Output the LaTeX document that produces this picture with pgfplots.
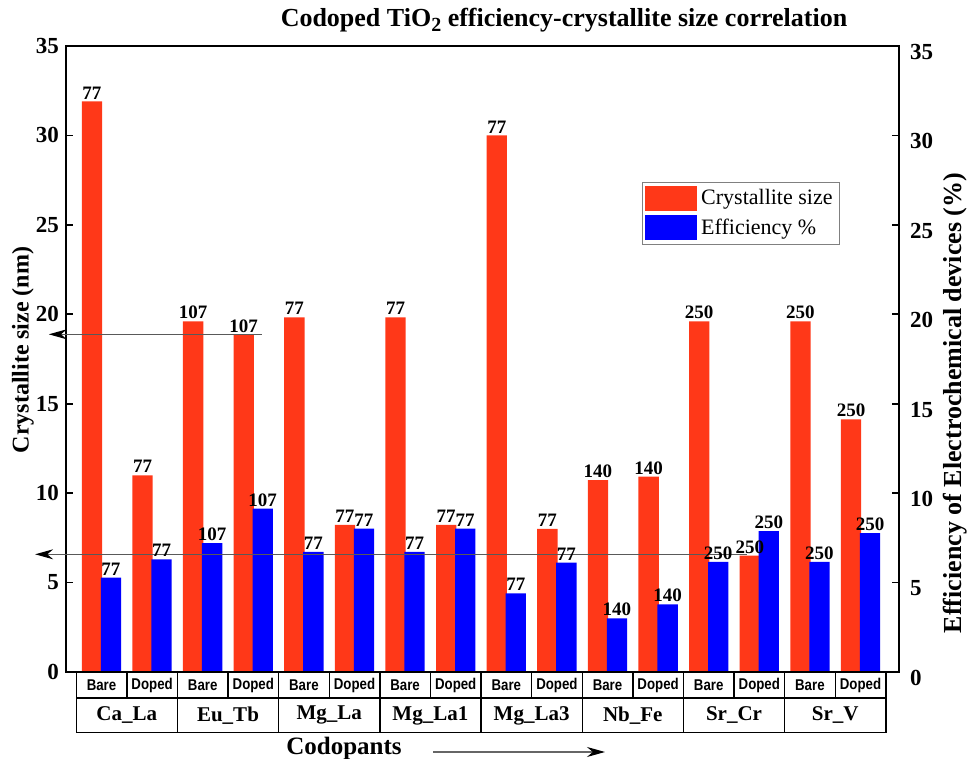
\documentclass[border=0pt]{standalone}
\usepackage{pgfplots}
\pgfplotsset{compat=1.18}
\usepackage{fontspec}
\usepackage{graphicx}
\setmainfont{Liberation Serif}
\newfontfamily\arialfont{Liberation Sans}
\usetikzlibrary{arrows.meta}
\definecolor{barred}{RGB}{255,56,24}
\definecolor{barblue}{RGB}{0,0,255}

\begin{document}
\begin{tikzpicture}
\useasboundingbox (-33pt,-43.5pt) rectangle (452.5pt,336pt);

% main axis: crystallite size (left) and efficiency bars
\begin{axis}[
  at={(0,0)}, anchor=south west,
  scale only axis, width=416.5pt, height=313pt,
  xmin=-0.70, xmax=15.76, ymin=0, ymax=35,
  xtick=\empty, ytick={0,5,...,35},
  ytick pos=left, tick align=inside, major tick length=3.5pt,
  axis line style={line width=1pt},
  every tick/.style={black, line width=0.9pt},
  /pgf/number format/assume math mode=true,
  yticklabel style={font=\fontsize{11.5}{11.5}\selectfont\bfseries},
  ybar, bar width=10.15pt,
  clip=false,
  nodes near coords={\pgfplotspointmeta},
  point meta=explicit symbolic,
  every node near coord/.append style={font=\fontsize{9.5}{9.5}\selectfont\bfseries, inner sep=1pt, black},
  legend style={at={(0.691,0.783)}, anchor=north west, draw=gray, line width=0.6pt,
    font=\fontsize{11}{11}\selectfont, inner sep=1.5pt, row sep=1.5pt, cells={anchor=west}},
  legend image code/.code={\fill[#1, draw=none] (0pt,-6.25pt) rectangle (26pt,6.25pt);},
]
\addplot[fill=barred, draw=none, bar shift=-4.75pt] coordinates {
  (0,31.9)[77] (1,11.0)[77] (2,19.6)[107] (3,18.85)[107]
  (4,19.83)[77] (5,8.22)[77] (6,19.83)[77] (7,8.22)[77]
  (8,30.0)[77] (9,8.0)[77] (10,10.73)[140] (11,10.92)[140]
  (12,19.61)[250] (13,6.5)[250] (14,19.61)[250] (15,14.13)[250]
};
\addplot[fill=barblue, draw=none, bar shift=4.75pt] coordinates {
  (0,5.27)[77] (1,6.3)[77] (2,7.21)[107] (3,9.13)[107]
  (4,6.71)[77] (5,8.01)[77] (6,6.71)[77] (7,8.01)[77]
  (8,4.4)[77] (9,6.11)[77] (10,3.0)[140] (11,3.78)[140]
  (12,6.15)[250] (13,7.88)[250] (14,6.15)[250] (15,7.77)[250]
};
\legend{Crystallite size, Efficiency \%}
\draw[black!65, line width=0.6pt, -{Stealth[length=9pt,width=5pt,black]}]
  (axis cs:3.17,18.88) -- (axis cs:-1.04,18.88);
\draw[black!65, line width=0.6pt, -{Stealth[length=9pt,width=5pt,black]}]
  (axis cs:12.75,6.58) -- (axis cs:-1.31,6.58);
\end{axis}

% right axis: efficiency scale
\begin{axis}[
  at={(0,0)}, anchor=south west,
  scale only axis, width=416.5pt, height=313pt,
  xmin=-0.70, xmax=15.76, ymin=0, ymax=35,
  axis x line=none, axis y line*=right,
  ytick={0,5,...,35}, tick align=inside, major tick length=3.5pt,
  axis line style={line width=1pt, -},
  every tick/.style={black, line width=0.9pt},
  /pgf/number format/assume math mode=true,
  yticklabel style={font=\fontsize{11.5}{11.5}\selectfont\bfseries, yshift=-3pt, xshift=2pt},
]
\addplot[draw=none] coordinates {(0,0)};
\end{axis}

% category table under the bars
\begin{scope}[line width=0.7pt]
\foreach \k in {0,...,16}{
  \pgfmathsetmacro\xx{5.1+25.3*\k}
  \draw (\xx pt,0) -- (\xx pt,-13pt);
}
\foreach \k in {0,2,...,16}{
  \pgfmathsetmacro\xx{5.1+25.3*\k}
  \draw (\xx pt,-13pt) -- (\xx pt,-30.35pt);
}
\draw (5.1pt,0) -- (409.9pt,0);
\draw (5.1pt,-13pt) -- (409.9pt,-13pt);
\draw (5.1pt,-30.35pt) -- (409.9pt,-30.35pt);
\end{scope}
\foreach \i in {0,...,7}{
  \pgfmathsetmacro\xb{17.75+25.3*2*\i}
  \pgfmathsetmacro\xd{17.75+25.3*(2*\i+1)}
  \node[inner sep=0pt] at (\xb pt,-6.5pt) {\arialfont\bfseries\fontsize{7.8}{7.8}\selectfont\scalebox{0.85}[1]{Bare}};
  \node[inner sep=0pt] at (\xd pt,-6.5pt) {\arialfont\bfseries\fontsize{7.8}{7.8}\selectfont\scalebox{0.85}[1]{Doped}};
}
\foreach \n [count=\i from 0] in {Ca\_La, Eu\_Tb, Mg\_La, Mg\_La1, Mg\_La3, Nb\_Fe, Sr\_Cr, Sr\_V}{
  \pgfmathsetmacro\xg{17.75+25.3*(2*\i+0.5)}
  \node[inner sep=0pt] at (\xg pt,-21.7pt) {\fontsize{10.5}{10.5}\selectfont\bfseries \n};
}

% labels and title
\node[inner sep=0pt] at (139pt,-38pt) {\fontsize{12.5}{12.5}\selectfont\bfseries Codopants};
\draw[black!60, line width=0.6pt, -{Stealth[length=9pt,width=5pt,black]}] (183.5pt,-40pt) -- (269.5pt,-40pt);
\node[inner sep=0pt, rotate=90] at (-21.5pt,161pt) {\fontsize{12}{12}\selectfont\bfseries Crystallite size (nm)};
\node[inner sep=0pt, rotate=90] at (444.5pt,134.5pt) {\fontsize{13}{13}\selectfont\bfseries Efficiency of Electrochemical devices (\%)};
\node[inner sep=0pt] at (249pt,326pt) {\fontsize{13}{13}\selectfont\bfseries Codoped TiO\raisebox{-0.4ex}{\fontsize{10}{10}\selectfont 2} efficiency-crystallite size correlation};
\end{tikzpicture}
\end{document}
